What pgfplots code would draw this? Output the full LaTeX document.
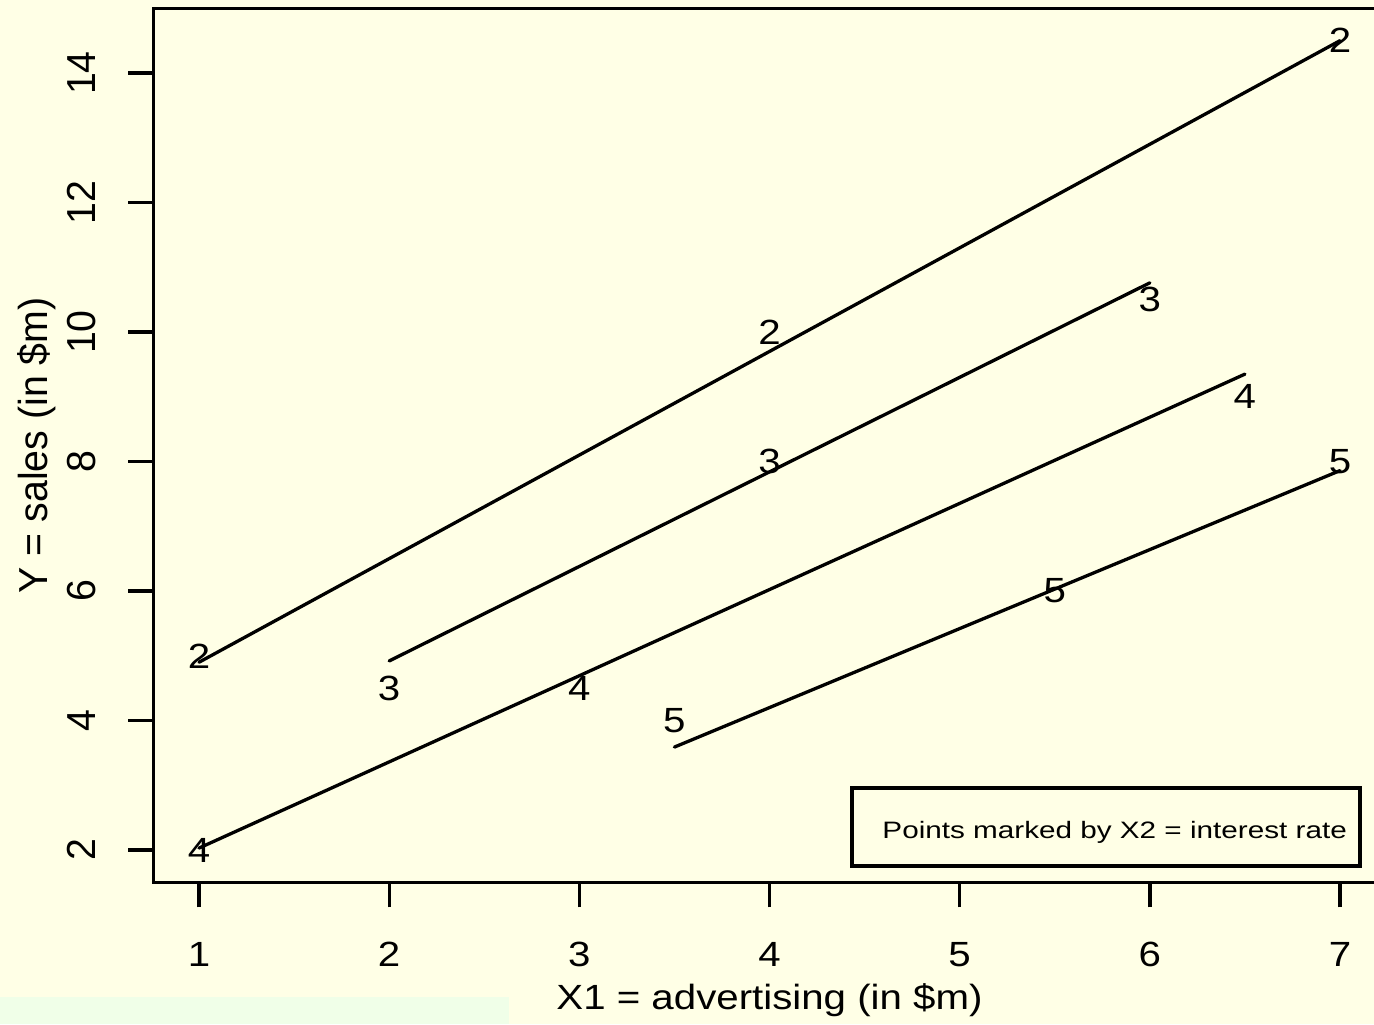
\documentclass[border=0pt]{standalone}
\usepackage{fontspec}
\setmainfont{Liberation Sans}[FakeStretch=1.15]
\newfontfamily\keyfamily{Liberation Sans}[FakeStretch=1.25]
\newfontfamily\rotfont{Liberation Sans}[FakeStretch=0.97]
\usepackage{pgfplots}
\usepackage{pgfplotstable}
\pgfplotsset{compat=1.18}

\definecolor{paper}{HTML}{FFFFE6}
\definecolor{mint}{HTML}{F0FFE8}
\newcommand\labfont{\fontsize{17.5}{21}\selectfont}
\newcommand\rotlabfont{\rotfont\fontsize{20.25}{24}\selectfont}
\newcommand\keyfont{\keyfamily\fontsize{11.87}{14}\selectfont}

% observed (X1, Y), one table per interest rate X2
\pgfplotstableread{
x y
1 5
4 10
7 14.5
}\ratetwo
\pgfplotstableread{
x y
2 4.5
4 8
6 10.5
}\ratethree
\pgfplotstableread{
x y
1 2
3 4.5
6.5 9
}\ratefour
\pgfplotstableread{
x y
3.5 4
5.5 6
7 8
}\ratefive

% fitted lines for each X2
\pgfplotstableread{
x y
1 4.90
7 14.50
}\fittwo
\pgfplotstableread{
x y
2 4.92
6 10.76
}\fitthree
\pgfplotstableread{
x y
1 2.03
6.5 9.35
}\fitfour
\pgfplotstableread{
x y
3.5 3.59
7 7.86
}\fitfive

\begin{document}
\begin{tikzpicture}
\fill[paper] (-76.68pt,-70.8pt) rectangle (610.32pt,441.2pt);
\fill[mint] (-76.68pt,-70.8pt) rectangle (177.82pt,-57.3pt);
\begin{axis}[
  at={(0,0)}, anchor=south west,
  scale only axis, width=616.14pt, height=437.06pt,
  xmin=0.76, xmax=7.24, ymin=1.5, ymax=15,
  xtick={1,2,...,7}, ytick={2,4,...,14},
  xtick pos=bottom, ytick pos=left,
  tick align=outside, major tick length=12.5pt,
  tick style={black, line width=1.65pt},
  axis line style={black, line width=1.65pt},
  /pgf/number format/assume math mode=true,
  xticklabel style={font=\labfont, inner sep=0pt, anchor=base, yshift=-29.3pt},
  yticklabel style={font=\rotlabfont, inner sep=0pt, xshift=-16.3pt, rotate=90, anchor=base},
  every axis x label/.style={at={(axis description cs:0.5,0)}, inner sep=0pt, anchor=base, yshift=-63.3pt, font=\labfont},
  every axis y label/.style={at={(axis description cs:0,0.5)}, inner sep=0pt, xshift=-53pt, rotate=90, anchor=base, font=\rotlabfont},
  xlabel={X1 = advertising (in \$m)},
  ylabel={Y = sales (in \$m)},
  clip=false,
  nodes near coords align=center,
  every node near coord/.append style={font=\labfont, inner sep=0pt, anchor=center, text=black},
]
% points, marked by their interest rate
\addplot[only marks, mark=none, nodes near coords={2}] table {\ratetwo};
\addplot[only marks, mark=none, nodes near coords={3}] table {\ratethree};
\addplot[only marks, mark=none, nodes near coords={4}] table {\ratefour};
\addplot[only marks, mark=none, nodes near coords={5}] table {\ratefive};
% fitted lines
\addplot[black, line width=1.65pt, line cap=round] table {\fittwo};
\addplot[black, line width=1.65pt, line cap=round] table {\fitthree};
\addplot[black, line width=1.65pt, line cap=round] table {\fitfour};
\addplot[black, line width=1.65pt, line cap=round] table {\fitfive};
% key box
\draw[black, line width=1.65pt] (axis cs:4.434,1.753) rectangle (axis cs:7.105,2.958);
\node[anchor=base west, inner sep=0pt, font=\keyfont] at (axis cs:4.592,2.185) {Points marked by X2 = interest rate};
\end{axis}
\pgfresetboundingbox
\path (-76.68pt,-70.8pt) rectangle (610.32pt,441.2pt);
\end{tikzpicture}
\end{document}
